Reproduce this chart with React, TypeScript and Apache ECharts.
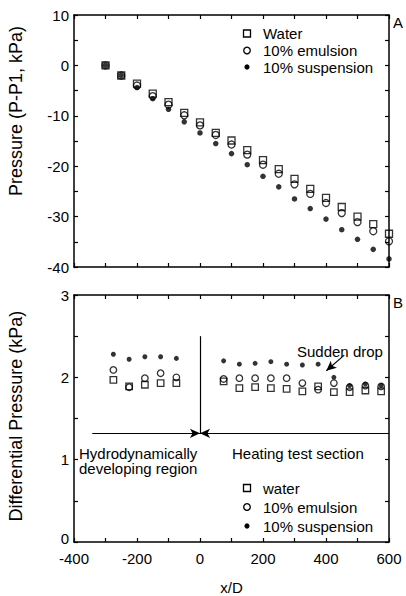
import React, { useEffect, useRef } from 'react';
import * as echarts from 'echarts';

// ---- Panel A: pressure profile ----
const xTop = [-300, -250, -200, -150, -100, -50, 0, 50, 100, 150, 200, 250, 300, 350, 400, 450, 500, 550, 600];
const waterTop = [0, -2.0, -3.6, -5.6, -7.3, -9.4, -11.3, -13.4, -14.9, -16.8, -18.8, -20.6, -22.5, -24.5, -26.3, -28.1, -30.0, -31.5, -33.4];
const emulsionTop = [0, -2.0, -4.0, -6.1, -7.8, -9.9, -11.9, -13.8, -15.7, -17.7, -19.7, -21.5, -23.6, -25.5, -27.3, -29.3, -31.1, -32.9, -34.9];
const suspensionTop = [0, -2.0, -4.4, -6.6, -8.7, -11.2, -13.4, -15.5, -17.5, -19.7, -22.0, -24.1, -26.5, -28.4, -30.5, -32.6, -34.5, -36.5, -38.4];

// ---- Panel B: differential pressure ----
const xBottom = [-275, -225, -175, -125, -75, 75, 125, 175, 225, 275, 325, 375, 425, 475, 525, 575];
const waterBottom = [1.97, 1.89, 1.91, 1.93, 1.93, 1.95, 1.87, 1.88, 1.87, 1.86, 1.83, 1.89, 1.82, 1.82, 1.84, 1.83];
const emulsionBottom = [2.09, 1.88, 1.99, 2.05, 2.00, 1.98, 1.99, 1.99, 1.99, 1.99, 1.93, 1.85, 1.93, 1.88, 1.90, 1.89];
const suspensionBottom = [2.28, 2.22, 2.25, 2.25, 2.23, 2.20, 2.16, 2.17, 2.19, 2.16, 2.15, 2.16, 2.00, 1.90, 1.92, 1.90];

// annotation geometry in data units (panel B)
const dividerLine = [[0, 2.5], [0, 1.32]];
const leftArrow = [[-342, 1.32], [0, 1.32]];
const rightArrow = [[600, 1.32], [0, 1.32]];
const dropArrow = [[458, 2.27], [401, 2.08]];

const topLegend = ['Water', '10% emulsion', '10% suspension'];
const bottomLegend = ['water', '10% emulsion', '10% suspension'];

const FONT = "'Liberation Sans', Arial, Helvetica, sans-serif";
const FS = 15;

const zip = (xs: number[], ys: number[]) => xs.map((x, i) => [x, ys[i]]);

function xAx(gridIndex: number, position: string, labels: boolean, name?: string) {
  return {
    type: 'value', gridIndex, position, min: -400, max: 600, interval: 100,
    name: name || '', nameLocation: 'middle', nameGap: 38,
    nameTextStyle: { color: '#000', fontSize: FS, fontFamily: FONT },
    axisLine: { show: true, onZero: false, lineStyle: { color: '#000', width: 1.5 } },
    axisTick: { show: true, inside: true, length: 4, lineStyle: { color: '#000', width: 1.2 } },
    axisLabel: {
      show: labels, color: '#000', fontSize: FS, fontFamily: FONT, margin: 9,
      formatter: (v: number) => (v % 200 === 0 ? String(v) : ''),
    },
    splitLine: { show: false },
  };
}

function yAx(gridIndex: number, position: string, labels: boolean, min: number, max: number, interval: number, labelStep: number) {
  return {
    type: 'value', gridIndex, position, min, max, interval,
    axisLine: { show: true, onZero: false, lineStyle: { color: '#000', width: 1.5 } },
    axisTick: { show: true, inside: true, length: 4, lineStyle: { color: '#000', width: 1.2 } },
    axisLabel: {
      show: labels, color: '#000', fontSize: FS, fontFamily: FONT, margin: 5,
      formatter: (v: number) => {
        if (Math.abs(v % labelStep) > 1e-9) return '';
        return v === min && min === 0 ? '{z|0}' : String(v);
      },
      rich: { z: { fontSize: FS, fontFamily: FONT, color: '#000', padding: [0, 0, 8, 0] } },
    },
    splitLine: { show: false },
  };
}

const openStyle = { color: 'rgba(0,0,0,0)', borderColor: '#000', borderWidth: 1.3 };
const dotStyle = { color: '#000' };

function scatter(name: string, data: number[][], xi: number, yi: number, kind: 'sq' | 'ci' | 'dot', big: boolean) {
  const size = kind === 'dot' ? (big ? 5.5 : 5) : big ? 7 : 6.5;
  return {
    type: 'scatter', name, xAxisIndex: xi, yAxisIndex: yi, data,
    symbol: kind === 'sq' ? 'rect' : 'circle', symbolSize: size,
    itemStyle: kind === 'dot' ? dotStyle : openStyle,
    silent: true,
  };
}

function seg(pts: number[][], arrow: boolean) {
  return [
    { coord: pts[0], symbol: 'none' },
    { coord: pts[1], symbol: arrow ? 'arrow' : 'none' },
  ];
}

function legendGraphic(names: string[], ys: number[]) {
  const kinds = ['sq', 'ci', 'dot'];
  const els: any[] = [];
  names.forEach((n, i) => {
    const y = ys[i];
    const k = kinds[i];
    if (k === 'sq') {
      els.push({ type: 'rect', shape: { x: 243.5, y: y - 3.5, width: 7, height: 7 }, style: { fill: 'none', stroke: '#000', lineWidth: 1.3 } });
    } else if (k === 'ci') {
      els.push({ type: 'circle', shape: { cx: 247, cy: y, r: 3.3 }, style: { fill: 'none', stroke: '#000', lineWidth: 1.3 } });
    } else {
      els.push({ type: 'circle', shape: { cx: 247, cy: y, r: 2.6 }, style: { fill: '#000' } });
    }
    els.push({ type: 'text', x: 263, y, style: { text: n, fill: '#000', font: `${FS}px ${FONT}`, textVerticalAlign: 'middle', textAlign: 'left' } });
  });
  return els;
}

function txt(text: string, x: number, y: number, extra: any = {}) {
  return { type: 'text', x, y, ...extra, style: { text, fill: '#000', font: `${FS}px ${FONT}`, textVerticalAlign: 'middle', textAlign: 'left', ...(extra.style || {}) } };
}

export default function App() {
  const ref = useRef<HTMLDivElement>(null);
  useEffect(() => {
    if (!ref.current) return;
    const chart = echarts.init(ref.current, null, { renderer: 'svg' });
    const option: any = {
      animation: false,
      backgroundColor: '#fff',
      textStyle: { fontFamily: FONT },
      grid: [
        { left: 74, top: 15, width: 315, height: 252 },
        { left: 74, top: 295, width: 315, height: 250 },
      ],
      xAxis: [
        xAx(0, 'bottom', false),
        xAx(0, 'top', false),
        xAx(1, 'bottom', true, 'x/D'),
        xAx(1, 'top', false),
      ],
      yAxis: [
        yAx(0, 'left', true, -40, 10, 5, 10),
        yAx(0, 'right', false, -40, 10, 5, 10),
        yAx(1, 'left', true, 0, 3, 0.5, 1),
        yAx(1, 'right', false, 0, 3, 0.5, 1),
      ],
      series: [
        scatter('Water', zip(xTop, waterTop), 0, 0, 'sq', true),
        scatter('10% emulsion', zip(xTop, emulsionTop), 0, 0, 'ci', true),
        scatter('10% suspension', zip(xTop, suspensionTop), 0, 0, 'dot', true),
        scatter('water', zip(xBottom, waterBottom), 2, 2, 'sq', false),
        scatter('10% emulsion ', zip(xBottom, emulsionBottom), 2, 2, 'ci', false),
        scatter('10% suspension ', zip(xBottom, suspensionBottom), 2, 2, 'dot', false),
        {
          type: 'line', xAxisIndex: 2, yAxisIndex: 2, data: [], silent: true,
          markLine: {
            silent: true,
            symbolSize: [7, 10],
            label: { show: false },
            lineStyle: { color: '#000', width: 1.2, type: 'solid' },
            itemStyle: { color: '#000' },
            data: [seg(dividerLine, false), seg(leftArrow, true), seg(rightArrow, true), seg(dropArrow, true)],
          },
        },
      ],
      graphic: [
        ...legendGraphic(topLegend, [33.5, 50.5, 67]),
        ...legendGraphic(bottomLegend, [488, 507, 526]),
        txt('A', 393, 22),
        txt('B', 393, 302),
        txt('Sudden drop', 297, 351),
        txt('Hydrodynamically', 79, 453),
        txt('developing region', 79, 468.5),
        txt('Heating test section', 232, 453),
        txt('Pressure (P-P1, kPa)', 16, 111, { rotation: Math.PI / 2, style: { textAlign: 'center', font: `18px ${FONT}` } }),
        txt('Differential Pressure (kPa)', 16, 416, { rotation: Math.PI / 2, style: { textAlign: 'center', font: `18px ${FONT}` } }),
      ],
    };
    chart.setOption(option);
    return () => chart.dispose();
  }, []);
  return (
    <div
      ref={ref}
      style={{ position: 'fixed', left: 0, top: 0, width: 406, height: 596, background: '#fff' }}
    />
  );
}
